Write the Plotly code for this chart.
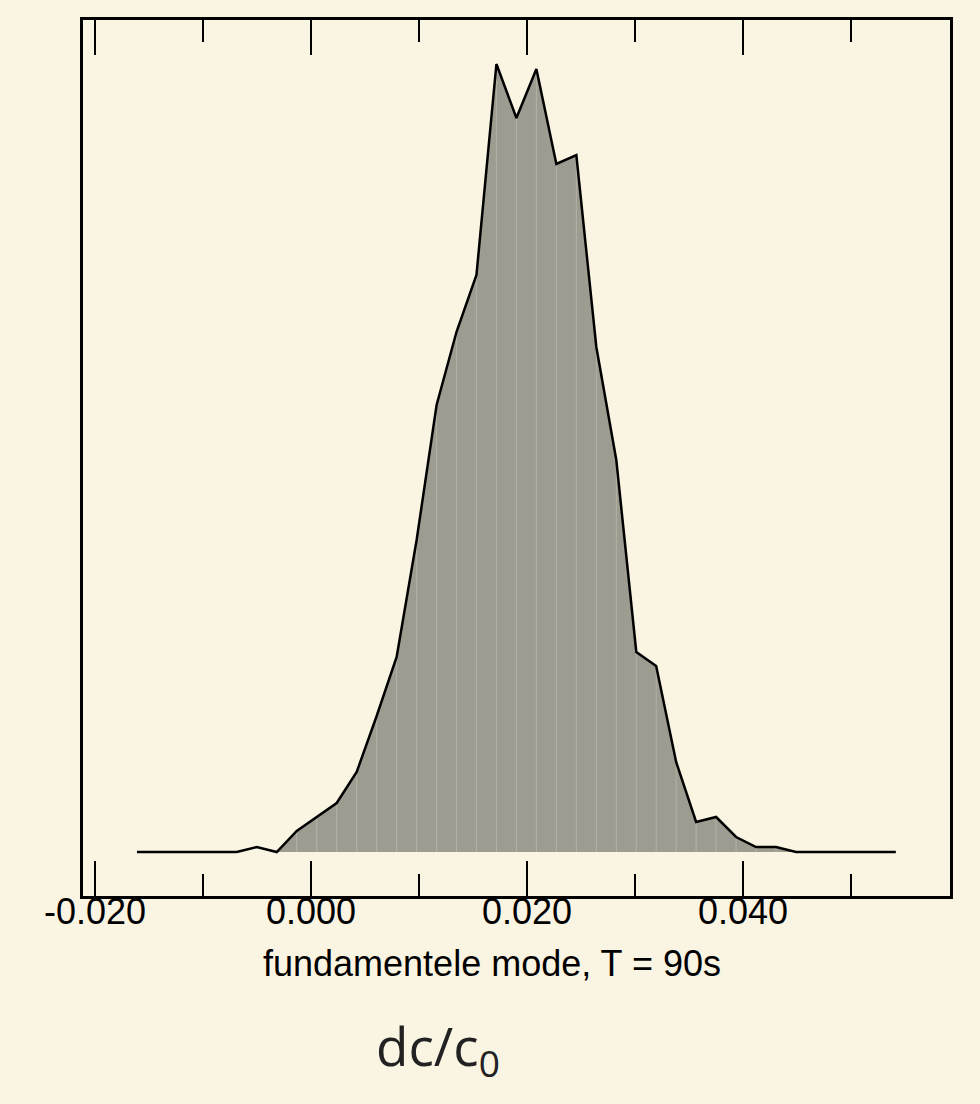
import plotly.graph_objects as go

# bin centres (dc/c0) and counts (arbitrary units)
dc_values = [-0.01611, -0.01426, -0.01241, -0.01056, -0.00871, -0.00687, -0.00502,
             -0.00317, -0.00132, 0.00053, 0.00238, 0.00423, 0.00608, 0.00793,
             0.00978, 0.01163, 0.01347, 0.01532, 0.01717, 0.01902, 0.02087,
             0.02272, 0.02457, 0.02642, 0.02827, 0.03012, 0.03196, 0.03381,
             0.03566, 0.03751, 0.03936, 0.04121, 0.04306, 0.04491, 0.04676,
             0.04861, 0.05046, 0.05231, 0.05415]
counts = [0, 0, 0, 0, 0, 0, 5, 0, 21, 35, 49, 80, 136, 195, 312, 447, 520, 577,
          788, 734, 783, 688, 697, 505, 392, 200, 186, 90, 30, 35, 15, 5, 5, 0,
          0, 0, 0, 0, 0]

tick_vals = [-0.02, 0.0, 0.02, 0.04]
tick_text = ["-0.020", "0.000", "0.020", "0.040"]

x_title = "fundamentele mode, T = 90s"
big_label = "dc/c<sub>0</sub>"

BG = "#FAF4E2"
FILL = "#9E9C90"
STRIPE = "#B4B2A6"
X_RANGE = [-0.021111, 0.059167]

# filled part (from the first rising bin to the last nonzero bin)
fill_start, fill_end = 7, 34
fx = dc_values[fill_start:fill_end]
fy = counts[fill_start:fill_end]

# vertical light stripes at each vertex inside the filled area
sx, sy = [], []
for xv, yv in zip(fx, fy):
    if yv > 0:
        sx += [xv, xv, None]
        sy += [0, yv, None]

fig = go.Figure()
fig.add_trace(go.Scatter(x=fx, y=fy, mode="lines", fill="tozeroy",
                         fillcolor=FILL, line=dict(width=0, color=FILL),
                         hoverinfo="skip", showlegend=False))
fig.add_trace(go.Scatter(x=sx, y=sy, mode="lines",
                         line=dict(color=STRIPE, width=1),
                         hoverinfo="skip", showlegend=False))
fig.add_trace(go.Scatter(x=dc_values, y=counts, mode="lines",
                         line=dict(color="black", width=2.5),
                         showlegend=False))
# same curve on the top axis, fully transparent, so that the top axis is drawn
fig.add_trace(go.Scatter(x=dc_values, y=counts, mode="lines", xaxis="x2",
                         line=dict(color="rgba(0,0,0,0)", width=0),
                         hoverinfo="skip", showlegend=False))

tick_common = dict(
    tickmode="array", tickvals=tick_vals,
    ticks="inside", ticklen=35, tickwidth=2, tickcolor="black",
    minor=dict(tickmode="linear", tick0=-0.01, dtick=0.02,
               ticks="inside", ticklen=22, tickwidth=2, tickcolor="black"),
    showgrid=False, zeroline=False,
)

fig.update_layout(
    width=980, height=1104,
    paper_bgcolor=BG, plot_bgcolor=BG,
    margin=dict(l=83, r=30, t=20, b=208),
    font=dict(family="Liberation Sans, Arial, sans-serif", color="black"),
    xaxis=dict(
        range=X_RANGE, ticktext=tick_text,
        showline=True, linecolor="black", linewidth=2.5, mirror=True,
        tickfont=dict(size=36, family="Liberation Sans, Arial, sans-serif"),
        ticklabelstandoff=-18,
        **tick_common,
    ),
    xaxis2=dict(
        range=X_RANGE, overlaying="x", side="top", anchor="y",
        showticklabels=False, showline=False,
        **tick_common,
    ),
    yaxis=dict(
        range=[-44, 832], showticklabels=False, ticks="",
        showline=True, linecolor="black", linewidth=2.5, mirror=True,
        showgrid=False, zeroline=False,
    ),
    annotations=[
        dict(text=x_title, xref="paper", yref="paper", x=0.4717, y=-0.0765,
             xanchor="center", yanchor="middle", showarrow=False,
             font=dict(size=36, family="Liberation Sans, Arial, sans-serif")),
        dict(text=big_label, xref="paper", yref="paper", x=0.4095, y=-0.174,
             xanchor="center", yanchor="middle", showarrow=False,
             font=dict(size=53, color="#222222",
                       family="Liberation Sans Narrow, Open Sans, sans-serif")),
    ],
)

fig.write_html(
    "out.html",
    config={"displayModeBar": False},
    post_script="document.body.style.margin='0';"
                "document.body.style.background='#FAF4E2';",
)
